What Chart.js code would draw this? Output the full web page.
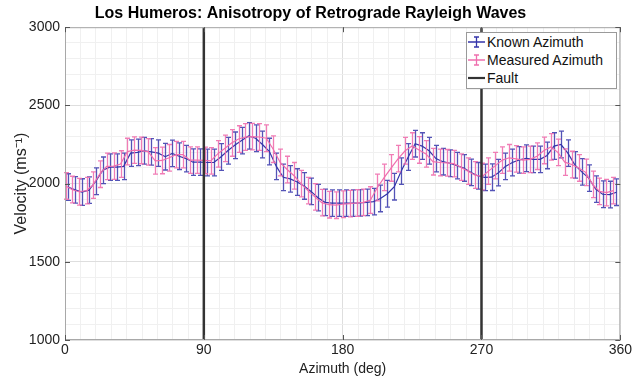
<!DOCTYPE html>
<html>
<head>
<meta charset="utf-8">
<script src="https://cdn.jsdelivr.net/npm/chart.js@4"></script>
<style>
  body { margin: 0; background: #fff; }
  #wrap { position: relative; width: 634px; height: 382px; }
  #legend {
    position: absolute; left: 466px; top: 32px; width: 149px; height: 55px;
    border: 1px solid #9a9a9a; background: #fff;
    font-family: "Liberation Sans", Arial, sans-serif; font-size: 14px; color: #111;
  }
  #legend div { height: 18px; line-height: 18px; display: flex; align-items: center; white-space: nowrap; }
  #legend svg { width: 19px; height: 14px; margin-right: 1px; }
</style>
</head>
<body>
<div id="wrap">
  <canvas id="chart" width="634" height="382"></canvas>
  <div id="legend">
    <div><svg viewBox="0 0 19 14"><path d="M1 7H18M9.5 2V12M7 2H12M7 12H12" stroke="#3535aa" stroke-width="1.3" fill="none"/></svg>Known Azimuth</div>
    <div><svg viewBox="0 0 19 14"><path d="M1 7H18M9.5 2V12M7 2H12M7 12H12" stroke="#ef6fae" stroke-width="1.3" fill="none"/></svg>Measured Azimuth</div>
    <div><svg viewBox="0 0 19 14"><path d="M1 7H18" stroke="#333" stroke-width="2.2" fill="none"/></svg>Fault</div>
  </div>
</div>
<script>
// ---- data ----
const knownAz = [2, 6.5, 11, 15.5, 20, 24.5, 29, 33.5, 38, 42.5, 47, 51.5, 56, 60.5, 65, 69.5, 74, 78.5, 83, 87.5,
    92, 96.5, 101, 105.5, 110, 114.5, 119, 123.5, 128, 132.5, 137, 141.5, 146, 150.5, 155, 159.5, 164, 168.5, 173, 177.5,
    182, 186.5, 191, 195.5, 200, 204.5, 209, 213.5, 218, 222.5, 227, 231.5, 236, 240.5, 245, 249.5, 254, 258.5, 263, 267.5,
    272, 276.5, 281, 285.5, 290, 294.5, 299, 303.5, 308, 312.5, 317, 321.5, 326, 330.5, 335, 339.5, 344, 348.5, 353, 357.5];

const measuredAz = [0.5, 4.5, 9, 14, 18, 22.5, 27, 31.5, 36, 40.5, 45, 49.5, 54, 58.5, 63, 67.5, 72, 76.5, 81, 85.5,
    90.5, 94.5, 99, 103.5, 108, 112.5, 117, 121.5, 126, 130.5, 135, 139.5, 144, 148.5, 153, 157.5, 162, 166.5, 171, 175.5,
    180, 184.5, 189, 193.5, 198, 202.5, 207, 211.5, 216, 220.5, 225, 229.5, 234, 238.5, 243, 247.5, 252, 256.5, 261, 265.5,
    270.5, 274.5, 279, 283.5, 288, 292.5, 297, 301.5, 306, 310.5, 315, 319.5, 324, 328.5, 333, 337.5, 342, 346.5, 351, 355.5];

const knownVel = [1978, 1960, 1946, 1958, 2015, 2085, 2105, 2105, 2110, 2195, 2200, 2210, 2203, 2195, 2172, 2193, 2175, 2160, 2137, 2137,
    2135, 2135, 2170, 2210, 2245, 2275, 2305, 2290, 2250, 2205, 2110, 2040, 2030, 2010, 1985, 1950, 1910, 1880, 1875, 1875,
    1875, 1875, 1877, 1880, 1885, 1905, 1935, 1980, 2080, 2170, 2255, 2240, 2210, 2160, 2140, 2130, 2115, 2100, 2072, 2050,
    2040, 2041, 2070, 2110, 2135, 2152, 2162, 2155, 2155, 2180, 2240, 2250, 2195, 2120, 2075, 2035, 1965, 1932, 1930, 1945];

const measuredVel = [1985, 1962, 1948, 1955, 1990, 2060, 2110, 2112, 2125, 2205, 2214, 2212, 2203, 2145, 2148, 2165, 2185, 2185, 2150, 2150,
    2148, 2145, 2190, 2225, 2260, 2285, 2298, 2300, 2298, 2290, 2220, 2135, 2090, 2050, 2000, 1955, 1915, 1878, 1865, 1862,
    1868, 1872, 1876, 1880, 1895, 1975, 2040, 2100, 2160, 2210, 2240, 2215, 2190, 2140, 2135, 2133, 2128, 2105, 2080, 2055,
    2045, 2080, 2115, 2150, 2165, 2158, 2150, 2155, 2175, 2212, 2235, 2200, 2137, 2122, 2100, 2072, 1995, 1950, 1942, 1955];

const knownErr = 85;
const measuredErr = 85;
const faultAz = [90, 270];
const xTicks = [0, 90, 180, 270, 360];
const yTicks = [1000, 1500, 2000, 2500, 3000];

const BLUE = '#3535aa';
const PINK = '#ef6fae';

function toPoints(xs, ys) {
    return xs.map((x, i) => ({ x: x, y: ys[i] }));
}

let faultPts = [];
faultAz.forEach(a => {
    faultPts.push({ x: a, y: 1000 }, { x: a, y: 3000 }, { x: a, y: null });
});

// error bars drawn right after each series' line
const errorBars = {
    id: 'errorBars',
    afterDatasetDraw(chart, args) {
        const ds = chart.data.datasets[args.index];
        if (ds.err == null) return;
        const xs = chart.scales.x, ys = chart.scales.y;
        const c = chart.ctx;
        c.save();
        c.strokeStyle = ds.barColor;
        c.lineWidth = 1.3;
        c.beginPath();
        ds.data.forEach(p => {
            const px = Math.round(xs.getPixelForValue(p.x)) + 0.5;
            const t = ys.getPixelForValue(p.y + ds.err);
            const b = ys.getPixelForValue(p.y - ds.err);
            c.moveTo(px, t); c.lineTo(px, b);
            c.moveTo(px - 2.5, t); c.lineTo(px + 2.5, t);
            c.moveTo(px - 2.5, b); c.lineTo(px + 2.5, b);
        });
        c.stroke();
        c.restore();
    }
};

// matlab-like box with inward ticks
const axesBox = {
    id: 'axesBox',
    afterDraw(chart) {
        const a = chart.chartArea, c = chart.ctx;
        const xs = chart.scales.x, ys = chart.scales.y;
        c.save();
        c.strokeStyle = '#a8a8a8';
        c.lineWidth = 1;
        c.strokeRect(a.left + 0.5, a.top + 0.5, a.right - a.left - 1, a.bottom - a.top - 1);
        c.strokeStyle = '#555';
        c.beginPath();
        xTicks.forEach(v => {
            const px = Math.round(xs.getPixelForValue(v)) + 0.5;
            c.moveTo(px, a.bottom); c.lineTo(px, a.bottom - 5);
            c.moveTo(px, a.top); c.lineTo(px, a.top + 5);
        });
        yTicks.forEach(v => {
            const py = Math.round(ys.getPixelForValue(v)) + 0.5;
            c.moveTo(a.left, py); c.lineTo(a.left + 5, py);
            c.moveTo(a.right, py); c.lineTo(a.right - 5, py);
        });
        c.stroke();
        c.restore();
    }
};

const FONT = "'Liberation Sans', Arial, sans-serif";

new Chart(document.getElementById('chart'), {
    type: 'line',
    data: {
        datasets: [
            { label: 'Known Azimuth', data: toPoints(knownAz, knownVel), borderColor: BLUE, borderWidth: 1.2,
              pointRadius: 0, err: knownErr, barColor: 'rgba(53,53,170,0.85)', order: 3 },
            { label: 'Measured Azimuth', data: toPoints(measuredAz, measuredVel), borderColor: PINK, borderWidth: 1.2,
              pointRadius: 0, err: measuredErr, barColor: 'rgba(239,111,174,0.9)', order: 2 },
            { label: 'Fault', data: faultPts, borderColor: '#333', borderWidth: 2.5, pointRadius: 0, spanGaps: false, order: 1 }
        ]
    },
    options: {
        responsive: false,
        animation: false,
        layout: { padding: { left: 0, right: 13, top: 0, bottom: 0 } },
        plugins: {
            legend: { display: false },
            tooltip: { enabled: false },
            title: {
                display: true,
                text: 'Los Humeros: Anisotropy of Retrograde Rayleigh Waves',
                color: '#000',
                font: { family: FONT, size: 16, weight: 'bold' },
                padding: { top: 4, bottom: 4 }
            }
        },
        scales: {
            x: {
                type: 'linear', min: 0, max: 360,
                afterFit: s => { s.height = 42; },
                ticks: {
                    stepSize: 10, autoSkip: false, maxRotation: 0, padding: 2,
                    color: '#222', font: { family: FONT, size: 14 },
                    callback: v => (xTicks.includes(v) ? v : '')
                },
                grid: {
                    drawTicks: false,
                    color: c => (xTicks.includes(c.tick.value) ? '#dedede' : '#f0f0f0')
                },
                border: { display: false },
                title: { display: true, text: 'Azimuth (deg)', color: '#222', font: { family: FONT, size: 14 }, padding: { top: 0 } }
            },
            y: {
                type: 'linear', min: 1000, max: 3000,
                afterFit: s => { s.width = 65; },
                ticks: {
                    stepSize: 100, autoSkip: false, padding: 5,
                    color: '#222', font: { family: FONT, size: 14 },
                    callback: v => (yTicks.includes(v) ? v : '')
                },
                grid: {
                    drawTicks: false,
                    color: c => (yTicks.includes(c.tick.value) ? '#dedede' : '#f0f0f0')
                },
                border: { display: false },
                title: { display: true, text: 'Velocity (ms⁻¹)', color: '#222', font: { family: FONT, size: 16 }, padding: { top: 12, bottom: 0 } }
            }
        }
    },
    plugins: [errorBars, axesBox]
});
</script>
</body>
</html>
